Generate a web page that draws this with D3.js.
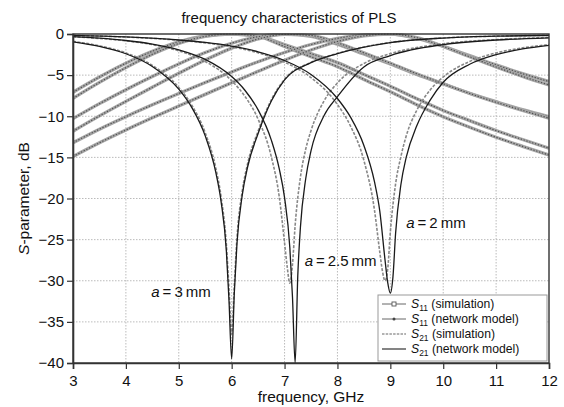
<!DOCTYPE html>
<html>
<head>
<meta charset="utf-8">
<script src="https://cdn.jsdelivr.net/npm/d3@7"></script>
<style>
  body { margin: 0; background: #fff; }
  svg { font-family: "Liberation Sans", Arial, sans-serif; }
</style>
</head>
<body>
<svg width="564" height="407"></svg>
<script>
// tick labels
var xTicks = [3, 4, 5, 6, 7, 8, 9, 10, 11, 12]
var yTicks = [0, -5, -10, -15, -20, -25, -30, -35, -40]

// S11 (broad humps), all sampled on the same frequency grid
var humpFreq = [3, 3.5, 4, 4.5, 5, 5.5, 6, 6.5, 7, 7.5, 8, 8.5, 9, 9.5, 10, 10.5, 11, 11.5, 12]
var a3S11Sim = [-7.08, -5.23, -3.55, -2.10, -0.95, -0.23, 0, -0.25, -1.29, -2.38, -3.48, -4.92, -6.35, -7.86, -9.29, -10.53, -11.74, -12.83, -13.89]
var a3S11Model = [-7.83, -5.89, -4.09, -2.47, -1.15, -0.29, 0, -0.30, -1.53, -2.77, -3.98, -5.53, -7.03, -8.60, -10.06, -11.34, -12.56, -13.66, -14.72]
var a25S11Sim = [-10.29, -8.47, -6.77, -5.16, -3.64, -2.26, -1.12, -0.33, -0.01, -0.29, -1.24, -2.44, -3.65, -4.91, -6.07, -7.21, -8.23, -9.20, -10.05]
var a25S11Model = [-11.82, -9.96, -8.19, -6.47, -4.78, -3.17, -1.72, -0.61, -0.05, -0.18, -1.07, -2.29, -3.55, -4.84, -6.05, -7.23, -8.30, -9.29, -10.24]
var a2S11Sim = [-13.22, -11.57, -10.05, -8.61, -7.23, -5.90, -4.61, -3.38, -2.25, -1.28, -0.54, -0.11, -0.02, -0.53, -1.50, -2.63, -3.76, -4.82, -5.78]
var a2S11Model = [-14.90, -13.23, -11.67, -10.19, -8.76, -7.34, -5.93, -4.54, -3.19, -1.95, -0.91, -0.23, 0, -0.45, -1.51, -2.77, -4.01, -5.16, -6.20]

// S21 (notches), a = 3 mm
var a3Freq = [3, 3.5, 4, 4.5, 5, 5.25, 5.5, 5.7, 5.8, 5.9, 5.95, 6, 6.05, 6.1, 6.2, 6.3, 6.5, 6.75, 7, 7.5, 8, 9, 10, 11, 12]
var a3S21Model = [-0.95, -1.5, -2.4, -3.95, -6.71, -8.98, -12.39, -16.82, -20.37, -26.4, -32.5, -39.5, -31.5, -25.5, -19.6, -16.2, -12.1, -8.15, -5.58, -3.49, -2.39, -1.05, -0.49, -0.27, -0.17]
var a3S21Sim = [-0.9, -1.44, -2.3, -3.82, -6.5, -8.7, -12.0, -16.3, -19.8, -25.6, -31.0, -36.5, -30.5, -24.8, -19.1, -15.8, -11.8, -8.0, -5.5, -3.45, -2.36, -1.03, -0.48, -0.26, -0.16]

// a = 2.5 mm
var a25FreqModel = [3, 3.5, 4, 4.5, 5, 5.5, 6, 6.25, 6.5, 6.75, 6.9, 7, 7.1, 7.15, 7.2, 7.25, 7.3, 7.4, 7.5, 7.75, 8, 8.5, 9, 10, 11, 12]
var a25S21Model = [-0.33, -0.51, -0.79, -1.22, -1.92, -3.09, -5.18, -6.84, -9.22, -12.9, -16.4, -19.9, -26.0, -32.0, -40, -29.4, -23.5, -17.6, -14.2, -9.88, -7.61, -4.0, -2.62, -1.28, -0.73, -0.46]
var a25FreqSim = [3, 3.5, 4, 4.5, 5, 5.5, 6, 6.25, 6.5, 6.75, 6.9, 7, 7.05, 7.1, 7.15, 7.2, 7.3, 7.4, 7.5, 7.75, 8, 8.5, 9, 10, 11, 12]
var a25S21Sim = [-0.34, -0.54, -0.83, -1.29, -2.05, -3.34, -5.68, -7.57, -10.36, -14.94, -19.8, -25.4, -28.3, -30.3, -28.0, -23.3, -17.4, -14.0, -11.75, -8.10, -5.95, -3.58, -2.39, -1.19, -0.68, -0.43]

// a = 2 mm
var a2FreqModel = [3, 4, 5, 5.5, 6, 6.5, 7, 7.5, 8, 8.25, 8.5, 8.7, 8.8, 8.9, 8.95, 9, 9.05, 9.1, 9.2, 9.3, 9.5, 9.75, 10, 10.5, 11, 11.5, 12]
var a2S21Model = [-0.17, -0.36, -0.73, -1.03, -1.48, -2.16, -3.22, -4.92, -7.84, -10.14, -13.55, -17.96, -21.5, -27.5, -30.2, -31.5, -29.5, -24.2, -18.3, -15.0, -11.16, -8.07, -5.87, -3.68, -2.51, -1.82, -1.38]
var a2FreqSim = [3, 4, 5, 5.5, 6, 6.5, 7, 7.5, 8, 8.25, 8.5, 8.7, 8.8, 8.85, 8.9, 8.95, 9, 9.1, 9.2, 9.3, 9.5, 9.75, 10, 10.5, 11, 11.5, 12]
var a2S21Sim = [-0.17, -0.37, -0.76, -1.08, -1.56, -2.29, -3.43, -5.30, -8.57, -11.23, -15.37, -21.4, -26.5, -28.8, -30.0, -28.6, -24.1, -18.2, -14.9, -12.4, -9.28, -6.83, -5.23, -3.34, -2.30, -1.69, -1.29]

var legendLabels = [
    { sub: '11', text: ' (simulation)', kind: 's11sim' },
    { sub: '11', text: ' (network model)', kind: 's11model' },
    { sub: '21', text: ' (simulation)', kind: 's21sim' },
    { sub: '21', text: ' (network model)', kind: 's21model' }
]

var notes = [
    { label: '2', f: 9.3, db: -23.6 },
    { label: '2.5', f: 7.38, db: -28.2 },
    { label: '3', f: 4.48, db: -32 }
]

var svg = d3.select('svg')
var plotL = 73, plotR = 549, plotT = 34, plotB = 363

var xScale = d3.scaleLinear().domain([3, 12]).range([plotL, plotR])
var yScale = d3.scaleLinear().domain([-40, 0]).range([plotB, plotT])

function pairs(fr, vals) {
    return fr.map(function (f, i) { return [f, vals[i]] })
}
var line = d3.line()
    .x(d => xScale(d[0]))
    .y(d => yScale(d[1]))
    .curve(d3.curveMonotoneX)

// grid
svg.append('g').selectAll('line')
    .data(xTicks.slice(1, -1))
    .enter().append('line')
    .attr('x1', d => xScale(d)).attr('x2', d => xScale(d))
    .attr('y1', plotT).attr('y2', plotB)
    .style('stroke', '#aaa').style('stroke-width', 0.8).style('stroke-dasharray', '1.5,1.5')
svg.append('g').selectAll('line')
    .data(yTicks.slice(1, -1))
    .enter().append('line')
    .attr('y1', d => yScale(d)).attr('y2', d => yScale(d))
    .attr('x1', plotL).attr('x2', plotR)
    .style('stroke', '#aaa').style('stroke-width', 0.8).style('stroke-dasharray', '1.5,1.5')

svg.append('clipPath').attr('id', 'plotClip')
    .append('rect').attr('x', plotL).attr('y', plotT - 1)
    .attr('width', plotR - plotL).attr('height', plotB - plotT + 1)

var plot = svg.append('g').attr('clip-path', 'url(#plotClip)')

// S11 humps: grey textured bands
var humps = [a3S11Sim, a3S11Model, a25S11Sim, a25S11Model, a2S11Sim, a2S11Model]
humps.forEach(function (vals) {
    var p = pairs(humpFreq, vals)
    plot.append('path').attr('d', line(p))
        .style('fill', 'none').style('stroke', '#a6a6a6').style('stroke-width', 3.3)
    plot.append('path').attr('d', line(p))
        .style('fill', 'none').style('stroke', '#505050').style('stroke-width', 1.2)
        .style('stroke-dasharray', '1.3,1.7')
})

// S21 notches
var sims = [[a3Freq, a3S21Sim], [a25FreqSim, a25S21Sim], [a2FreqSim, a2S21Sim]]
var models = [[a3Freq, a3S21Model], [a25FreqModel, a25S21Model], [a2FreqModel, a2S21Model]]
sims.forEach(function (s) {
    plot.append('path').attr('d', line(pairs(s[0], s[1])))
        .style('fill', 'none').style('stroke', '#888').style('stroke-width', 1.6)
        .style('stroke-dasharray', '3,1.5')
})
models.forEach(function (s) {
    plot.append('path').attr('d', line(pairs(s[0], s[1])))
        .style('fill', 'none').style('stroke', '#1a1a1a').style('stroke-width', 1.3)
})

// frame
svg.append('rect').attr('x', plotL).attr('y', plotT)
    .attr('width', plotR - plotL).attr('height', plotB - plotT)
    .style('fill', 'none').style('stroke', '#333').style('stroke-width', 1.4)

// axes
var xAxis = d3.axisBottom(xScale).tickValues(xTicks).tickSize(6).tickPadding(6).tickFormat(d3.format('d'))
var yAxis = d3.axisLeft(yScale).tickValues(yTicks).tickSize(6).tickPadding(3).tickFormat(d3.format('d'))
var gx = svg.append('g').attr('transform', 'translate(0,' + plotB + ')').call(xAxis)
var gy = svg.append('g').attr('transform', 'translate(' + plotL + ',0)').call(yAxis)
;[gx, gy].forEach(function (g) {
    g.select('.domain').style('stroke', '#333').style('stroke-width', 1.6)
    g.selectAll('.tick line').style('stroke', '#333').style('stroke-width', 1.2)
    g.selectAll('.tick text').style('font-size', '15px').style('fill', '#111')
        .style('font-family', '"Liberation Sans", Arial, sans-serif')
})

// title and axis labels
svg.append('text').attr('x', 289).attr('y', 23).attr('text-anchor', 'middle')
    .style('font-size', '15px').style('fill', '#111').text('frequency characteristics of PLS')
svg.append('text').attr('x', 311).attr('y', 402).attr('text-anchor', 'middle')
    .style('font-size', '15.5px').style('fill', '#111').text('frequency, GHz')
var yl = svg.append('text').attr('transform', 'translate(29,' + (plotT + plotB) / 2 + ') rotate(-90)')
    .attr('text-anchor', 'middle').style('font-size', '15.5px').style('fill', '#111')
yl.append('tspan').style('font-style', 'italic').text('S')
yl.append('tspan').text('-parameter, dB')

// annotations
notes.forEach(function (n) {
    var t = svg.append('text').attr('x', xScale(n.f)).attr('y', yScale(n.db))
        .style('font-size', '15px').style('fill', '#111')
    t.append('tspan').style('font-style', 'italic').text('a')
    t.append('tspan').text('\u2009=\u2009' + n.label + '\u2009mm')
})

// legend
var lg = svg.append('g')
lg.append('rect').attr('x', 378).attr('y', 295).attr('width', 169).attr('height', 66)
    .style('fill', '#fff').style('stroke', '#999').style('stroke-width', 1)
legendLabels.forEach(function (d, i) {
    var y = 304 + i * 15
    var g = lg.append('g')
    if (d.kind === 's11sim') {
        g.append('line').attr('x1', 382).attr('x2', 406).attr('y1', y).attr('y2', y)
            .style('stroke', '#666').style('stroke-width', 1)
        g.append('rect').attr('x', 392).attr('y', y - 2).attr('width', 4).attr('height', 4)
            .style('fill', '#fff').style('stroke', '#555').style('stroke-width', 0.9)
    } else if (d.kind === 's11model') {
        g.append('line').attr('x1', 382).attr('x2', 406).attr('y1', y).attr('y2', y)
            .style('stroke', '#666').style('stroke-width', 1)
        g.append('circle').attr('cx', 394).attr('cy', y).attr('r', 1.5).style('fill', '#444')
    } else if (d.kind === 's21sim') {
        g.append('line').attr('x1', 382).attr('x2', 406).attr('y1', y).attr('y2', y)
            .style('stroke', '#999').style('stroke-width', 1.6).style('stroke-dasharray', '2.5,1.2')
    } else {
        g.append('line').attr('x1', 382).attr('x2', 406).attr('y1', y).attr('y2', y)
            .style('stroke', '#333').style('stroke-width', 1.2)
    }
    var t = g.append('text').attr('x', 411).attr('y', y + 4)
        .style('font-size', '12.2px').style('fill', '#111')
    t.append('tspan').style('font-style', 'italic').text('S')
    t.append('tspan').attr('dy', 3).style('font-size', '8.5px').text(d.sub)
    t.append('tspan').attr('dy', -3).text(d.text)
})
</script>
</body>
</html>
